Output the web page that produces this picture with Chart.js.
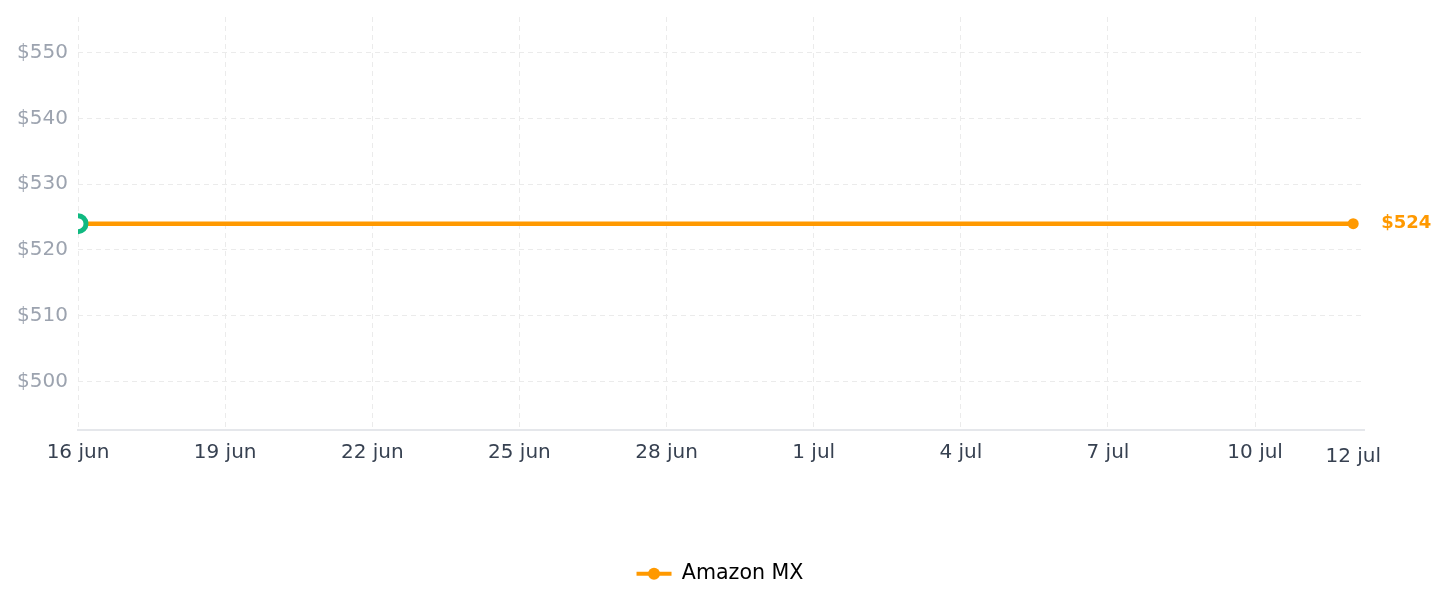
<!DOCTYPE html>
<html>
<head>
<meta charset="utf-8">
<script src="https://cdn.jsdelivr.net/npm/chart.js@4.4.0/dist/chart.umd.min.js"></script>
<style>
  html, body { margin: 0; padding: 0; background: #ffffff; }
  #wrap { width: 1447px; height: 607px; position: relative; }
</style>
</head>
<body>
<div id="wrap"><canvas id="c"></canvas></div>
<script>
// ---- data ----
const seriesName = 'Amazon MX';
const pointDays = [0, 26];               // days since 16 jun
const pointDates = ['16 jun', '12 jul'];
const prices = [524, 524];
const tickDays = [0, 3, 6, 9, 12, 15, 18, 21, 24];
const tickLabels = ['16 jun', '19 jun', '22 jun', '25 jun', '28 jun', '1 jul', '4 jul', '7 jul', '10 jul'];
const yTicks = [500, 510, 520, 530, 540, 550];
const yMin = 492.56, yMax = 555.44;
const xMin = 0, xMax = 26.22;

const ORANGE = '#ff9900';
const GREEN = '#10b981';
const FONT = 'DejaVu Sans';

const endLabelPlugin = {
  id: 'endLabel',
  afterDatasetsDraw(chart) {
    const meta = chart.getDatasetMeta(0);
    const last = meta.data[meta.data.length - 1];
    const ctx = chart.ctx;
    ctx.save();
    ctx.font = 'bold 18px "' + FONT + '"';
    ctx.fillStyle = ORANGE;
    ctx.textAlign = 'left';
    ctx.textBaseline = 'middle';
    ctx.fillText('$' + prices[prices.length - 1], last.x + 28, last.y);
    const xs = chart.scales.x;
    ctx.font = '20px "' + FONT + '"';
    ctx.fillStyle = '#374151';
    ctx.textAlign = 'center';
    ctx.textBaseline = 'middle';
    ctx.fillText(pointDates[pointDates.length - 1], xs.getPixelForValue(pointDays[pointDays.length - 1]), xs.top + 26);
    ctx.restore();
  },
  afterDraw(chart) {
    const lg = chart.legend;
    if (!lg || !lg.legendHitBoxes || !lg.legendHitBoxes.length) return;
    const hb = lg.legendHitBoxes[0];
    const ctx = chart.ctx;
    ctx.save();
    ctx.fillStyle = ORANGE;
    ctx.beginPath();
    ctx.arc(hb.left + 17.5, hb.top + hb.height / 2, 6, 0, Math.PI * 2);
    ctx.fill();
    ctx.restore();
  }
};

new Chart(document.getElementById('c'), {
  type: 'line',
  data: {
    datasets: [{
      label: seriesName,
      data: pointDays.map((d, i) => ({ x: d, y: prices[i] })),
      borderColor: ORANGE,
      backgroundColor: ORANGE,
      borderWidth: 4.5,
      pointRadius: [8, 5.5],
      pointBorderWidth: [5, 0],
      pointBackgroundColor: ['#ffffff', ORANGE],
      pointBorderColor: [GREEN, ORANGE],
      pointHoverRadius: 0,
      tension: 0,
      fill: false
    }]
  },
  options: {
    responsive: true,
    maintainAspectRatio: false,
    animation: false,
    layout: { padding: { top: 17, right: 7, left: 0, bottom: 13 } },
    plugins: {
      tooltip: { enabled: false },
      legend: {
        position: 'bottom',
        labels: {
          font: { family: FONT, size: 20.6 },
          color: '#111111',
          boxWidth: 35,
          boxHeight: 4,
          padding: 10,
          generateLabels: () => [{
            text: seriesName,
            fillStyle: ORANGE,
            strokeStyle: ORANGE,
            lineWidth: 0,
            datasetIndex: 0,
            hidden: false
          }]
        }
      }
    },
    scales: {
      x: {
        type: 'linear',
        min: xMin,
        max: xMax,
        afterBuildTicks: (s) => { s.ticks = tickDays.map(v => ({ value: v })); },
        afterFit: (s) => { s.height += 79; s.paddingLeft = 0; s.paddingRight = 0; },
        ticks: {
          autoSkip: false,
          maxRotation: 0,
          padding: 10,
          color: '#374151',
          font: { family: FONT, size: 20 },
          callback: (v) => { const i = tickDays.indexOf(v); return i >= 0 ? tickLabels[i] : ''; }
        },
        grid: { color: '#ebebeb', lineWidth: 1, drawTicks: false },
        border: { display: true, color: '#e5e7eb', width: 2, dash: [5, 4] }
      },
      y: {
        min: yMin,
        max: yMax,
        afterBuildTicks: (s) => { s.ticks = yTicks.map(v => ({ value: v })); },
        afterFit: (s) => { s.width = 78; s.paddingTop = 0; s.paddingBottom = 0; },
        ticks: {
          padding: 10,
          color: '#9ca3af',
          font: { family: FONT, size: 20 },
          callback: (v) => '$' + v
        },
        grid: { color: '#ebebeb', lineWidth: 1, drawTicks: false },
        border: { display: false, dash: [5, 4] }
      },
      yR: {
        position: 'right',
        display: true,
        min: yMin,
        max: yMax,
        afterFit: (s) => { s.width = 76; s.paddingTop = 0; s.paddingBottom = 0; },
        ticks: { display: false },
        grid: { display: false, drawTicks: false },
        border: { display: false }
      }
    }
  },
  plugins: [endLabelPlugin]
});
</script>
</body>
</html>
